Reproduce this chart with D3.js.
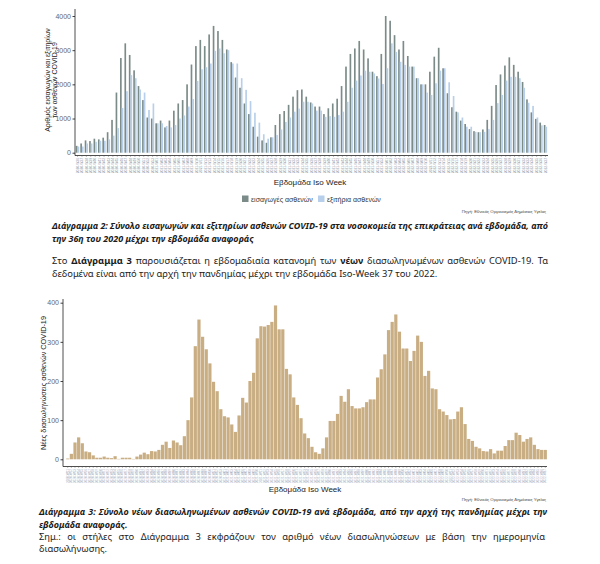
<!DOCTYPE html>
<html><head><meta charset="utf-8">
<script src="https://cdn.jsdelivr.net/npm/d3@7"></script>
<style>body{margin:0;background:#fff}svg{display:block}</style>
</head><body>
<svg id="page" width="600" height="564"></svg>
<script>
// ---------- DATA ----------
const admissions = [200,270,360,340,410,390,440,600,960,1760,
 2770,3200,2860,2410,1950,1540,1030,1000,860,940,
 740,940,1230,1440,1540,2000,2580,3120,3300,3120,
 3460,3710,3560,3300,3020,2650,2200,1900,1440,1130,
 760,470,360,290,450,810,1130,1220,1400,1640,
 1830,1850,1640,1470,1350,1350,1130,1300,1440,1580,
 1950,2520,2890,3050,3270,3020,2760,2370,2240,2890,
 4000,3860,3440,3020,3270,2830,2520,2180,2000,2000,
 2370,2810,3070,2470,1740,1330,1200,940,840,690,
 630,600,680,960,1370,1980,2290,2550,2790,2570,
 2370,2070,1560,1180,990,880,810];
const discharges = [180,180,270,270,320,350,350,390,500,720,
 1310,1800,2270,2180,1850,1760,1250,1440,860,860,
 780,740,810,1000,1090,1350,1570,2100,2440,2500,
 2610,2980,3050,2910,3000,2610,2610,2180,1840,1510,
 1170,880,540,410,450,520,680,900,1030,1200,
 1290,1490,1490,1440,1230,1230,1050,1070,1050,1100,
 1200,1490,1900,2110,2260,2400,2370,2320,2170,2010,
 2470,3200,2950,2660,2570,2520,2520,2180,2000,1760,
 1690,2030,2400,2470,2060,1660,1180,1030,760,760,
 610,600,610,690,960,1450,1690,2110,2220,2220,
 2180,1900,1460,1370,1030,800,760];
const intubations = [2,14,43,56,41,20,18,10,4,4,
 7,4,3,8,1,4,4,4,1,7,
 12,17,13,21,20,24,37,45,29,48,
 43,36,59,100,158,289,357,313,281,245,
 198,174,128,110,107,89,70,112,157,145,
 200,221,309,340,339,343,351,393,332,332,
 231,217,158,139,105,66,54,32,18,14,
 28,56,98,98,116,162,147,179,136,130,
 130,133,146,153,153,209,230,268,330,351,
 370,326,283,283,251,277,316,300,213,226,
 181,179,128,122,113,102,103,122,133,90,
 52,47,32,28,21,20,26,15,22,22,
 34,49,49,68,62,45,52,56,37,26,
 24,24];
const topYTicks = [0,1000,2000,3000,4000];
const botYTicks = [0,100,200,300,400];
const legendLabels = ["εισαγωγές ασθενών","εξιτήρια ασθενών"];
const topWeekRanges = [[2020,36,53],[2021,1,52],[2022,1,37]];
const botWeekRanges = [[2020,11,53],[2021,1,52],[2022,1,37]];
function weekLabels(ranges){const out=[];ranges.forEach(([y,a,b])=>{for(let w=a;w<=b;w++)out.push(y+"-W"+(w<10?"0":"")+w);});return out;}
const topWeeks = weekLabels(topWeekRanges);
const botWeeks = weekLabels(botWeekRanges);

const xTitle = "Εβδομάδα Iso Week";
const source = "Πηγή: Εθνικός Οργανισμός Δημόσιας Υγείας";
const topYTitle = ["Αριθμός εισαγωγών και εξιτηρίων","των ασθενών COVID-19"];
const botYTitle = "Νέες διασωληνώσεις ασθενών COVID-19";

// ---------- STYLE ----------
const CF = "'Liberation Sans', Arial, sans-serif";
const BF = "'Noto Sans', 'Open Sans', sans-serif";
const darkCol = "#7b8b88", lightCol = "#b7cfea", tanCol = "#c9ae84";

const svg = d3.select("#page");

// ---------- TOP CHART ----------
const g1 = svg.append("g");
const x1 = d3.scaleBand().domain(topWeeks).range([75, 548]).paddingInner(0.25).paddingOuter(0.2);
const y1 = d3.scaleLinear().domain([0, 4000]).range([152.7, 16]);
const bw1 = x1.bandwidth()/2;
g1.selectAll("rect.adm").data(admissions).join("rect")
  .attr("x",(d,i)=>x1(topWeeks[i])).attr("width",bw1)
  .attr("y",d=>y1(d)).attr("height",d=>y1(0)-y1(d)).attr("fill",darkCol);
g1.selectAll("rect.dis").data(discharges).join("rect")
  .attr("x",(d,i)=>x1(topWeeks[i])+bw1).attr("width",bw1)
  .attr("y",d=>y1(d)).attr("height",d=>y1(0)-y1(d)).attr("fill",lightCol);

const ya1 = g1.append("g").attr("transform","translate(75,0)")
  .call(d3.axisLeft(y1).tickValues(topYTicks).tickFormat(d3.format("d")).tickSize(2.5).tickPadding(1.5));
ya1.select(".domain").remove();
ya1.selectAll("text").attr("font-family",CF).attr("font-size",7).attr("fill","#666");
ya1.selectAll("line").attr("stroke","#444");
g1.append("line").attr("x1",75).attr("x2",75).attr("y1",9).attr("y2",155.5).attr("stroke","#222").attr("stroke-width",0.8);
const xa1 = g1.append("g").attr("transform","translate(0,155.5)")
  .call(d3.axisBottom(x1).tickSize(1.5).tickPadding(1));
xa1.select(".domain").attr("stroke","#222").attr("stroke-width",0.8).attr("d","M75,0H548");
xa1.selectAll("line").attr("stroke","#555").attr("stroke-width",0.4);
xa1.selectAll("text").attr("font-family",CF).attr("font-size",3.3).attr("fill","#8a93a3")
  .attr("text-anchor","end").attr("dy","0.35em").attr("transform","translate(0,2.5) rotate(-90)").attr("y",0).attr("x",0);

g1.selectAll("text.yt").data(topYTitle).join("text")
  .attr("transform",(d,i)=>`translate(${50+i*7},80) rotate(-90)`)
  .attr("text-anchor","middle").attr("font-family",CF).attr("font-size",7).attr("fill","#222").text(d=>d);
g1.append("text").attr("x",310).attr("y",184.5).attr("text-anchor","middle")
  .attr("font-family",CF).attr("font-size",8).attr("fill","#222").text(xTitle);
const leg = g1.append("g");
[[242,darkCol,251],[318,lightCol,327]].forEach(([rx,c,tx],i)=>{
  leg.append("rect").attr("x",rx).attr("y",195.5).attr("width",6.5).attr("height",6.5).attr("fill",c);
  leg.append("text").attr("x",tx).attr("y",201.5).attr("font-family",CF).attr("font-size",7).attr("fill","#333").text(legendLabels[i]);
});
g1.append("text").attr("x",546).attr("y",212.5).attr("text-anchor","end")
  .attr("font-family",CF).attr("font-size",4.3).attr("fill","#444").text(source);

// ---------- BOTTOM CHART ----------
const g2 = svg.append("g");
const x2 = d3.scaleBand().domain(botWeeks).range([66, 547]).paddingInner(0.12).paddingOuter(0.03);
const y2 = d3.scaleLinear().domain([0, 400]).range([459.3, 302.7]);
g2.selectAll("rect").data(intubations).join("rect")
  .attr("x",(d,i)=>x2(botWeeks[i])).attr("width",x2.bandwidth())
  .attr("y",d=>y2(d)).attr("height",d=>y2(0)-y2(d)).attr("fill",tanCol);
const ya2 = g2.append("g").attr("transform","translate(63,0)")
  .call(d3.axisLeft(y2).tickValues(botYTicks).tickFormat(d3.format("d")).tickSize(2.5).tickPadding(1.5));
ya2.select(".domain").remove();
ya2.selectAll("text").attr("font-family",CF).attr("font-size",7).attr("fill","#666");
ya2.selectAll("line").attr("stroke","#444");
g2.append("line").attr("x1",63).attr("x2",63).attr("y1",299).attr("y2",466.5).attr("stroke","#222").attr("stroke-width",0.8);
const xa2 = g2.append("g").attr("transform","translate(0,466.5)")
  .call(d3.axisBottom(x2).tickSize(1.5).tickPadding(1));
xa2.select(".domain").attr("stroke","#222").attr("stroke-width",0.8).attr("d","M63,0H547");
xa2.selectAll("line").attr("stroke","#555").attr("stroke-width",0.4);
xa2.selectAll("text").attr("font-family",CF).attr("font-size",3.1).attr("fill","#9aa6b8")
  .attr("text-anchor","end").attr("dy","0.35em").attr("transform","translate(0,2.5) rotate(-90)").attr("y",0).attr("x",0);
g2.append("text").attr("transform","translate(46,383) rotate(-90)").attr("text-anchor","middle")
  .attr("font-family",CF).attr("font-size",7.3).attr("fill","#222").text(botYTitle);
g2.append("text").attr("x",305).attr("y",492).attr("text-anchor","middle")
  .attr("font-family",CF).attr("font-size",8).attr("fill","#222").text(xTitle);
g2.append("text").attr("x",546).attr("y",500.5).attr("text-anchor","end")
  .attr("font-family",CF).attr("font-size",4.3).attr("fill","#444").text(source);

// ---------- DOCUMENT TEXT ----------
const tg = svg.append("g");
function measure(str, size, weight, style){
  const t = tg.append("text").attr("font-family",BF).attr("font-size",size).attr("font-weight",weight).attr("font-style",style).text(str);
  const w = t.node().getComputedTextLength(); t.remove(); return w;
}
function line(str, x0, xEnd, y, size, opts){
  const words = str.split(/\s+/).filter(s=>s.length);
  const t = tg.append("text").attr("y",y).attr("font-family",BF).attr("font-size",size)
    .attr("font-style",opts.italic?"italic":"normal").attr("fill","#1b1b1b");
  const spans = words.map(w=>{
    const b = opts.bold || w.startsWith("*");
    return t.append("tspan").attr("font-weight",b?"bold":"normal").text(w.replace(/^\*/,""));
  });
  const widths = spans.map(s=>s.node().getComputedTextLength());
  const total = d3.sum(widths);
  const gap = opts.justify && words.length>1 ? (xEnd-x0-total)/(words.length-1) : size*0.27;
  let x = x0;
  spans.forEach((s,i)=>{ s.attr("x",x); x += widths[i]+gap; });
}
const regSize = 10*385/measure("δεδομένα είναι από την αρχή την πανδημίας μέχρι την εβδομάδα Iso-Week 37 του 2022.",10,"normal","normal");
const capSize = 10*202/measure("την 36η του 2020 μέχρι την εβδομάδα αναφοράς",10,"bold","italic");

line("Διάγραμμα 2: Σύνολο εισαγωγών και εξιτηρίων ασθενών COVID-19 στα νοσοκομεία της επικράτειας ανά εβδομάδα, από",52,548,228.5,capSize,{bold:true,italic:true,justify:true});
line("την 36η του 2020 μέχρι την εβδομάδα αναφοράς",52,548,242,capSize,{bold:true,italic:true});
line("Στο *Διάγραμμα *3 παρουσιάζεται η εβδομαδιαία κατανομή των *νέων διασωληνωμένων ασθενών COVID-19. Τα",52,548,264,regSize,{justify:true});
line("δεδομένα είναι από την αρχή την πανδημίας μέχρι την εβδομάδα Iso-Week 37 του 2022.",52,548,277,regSize,{});
line("Διάγραμμα 3: Σύνολο νέων διασωληνωμένων ασθενών COVID-19 ανά εβδομάδα, από την αρχή της πανδημίας μέχρι την",39,547,515,capSize,{bold:true,italic:true,justify:true});
line("εβδομάδα αναφοράς.",39,547,527.5,capSize,{bold:true,italic:true});
line("Σημ.: οι στήλες στο Διάγραμμα 3 εκφράζουν τον αριθμό νέων διασωληνώσεων με βάση την ημερομηνία",39,545,539.5,regSize,{justify:true});
line("διασωλήνωσης.",39,545,551.5,regSize,{});
</script>
</body></html>
